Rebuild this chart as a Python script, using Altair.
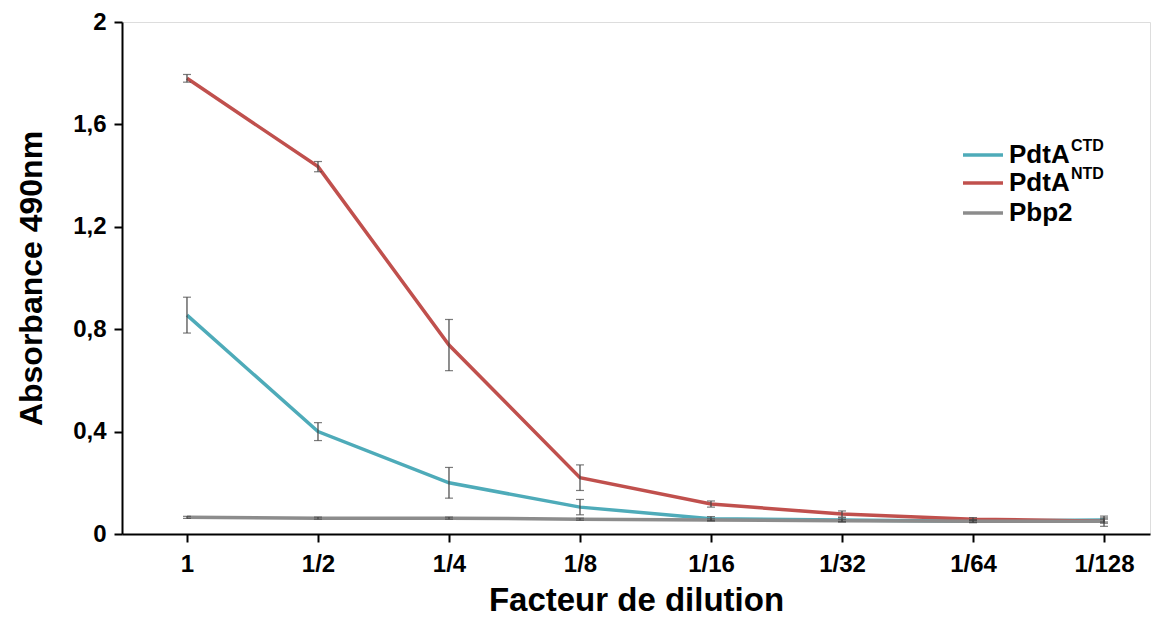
import altair as alt
import pandas as pd

# ---- data ----
dilutions = ["1", "1/2", "1/4", "1/8", "1/16", "1/32", "1/64", "1/128"]
series_names = ["PdtA CTD", "PdtA NTD", "Pbp2"]
ctd = [0.855, 0.40, 0.20, 0.105, 0.06, 0.055, 0.05, 0.055]
ctd_err = [0.07, 0.035, 0.06, 0.03, 0.008, 0.008, 0.006, 0.008]
ntd = [1.78, 1.435, 0.738, 0.22, 0.117, 0.078, 0.058, 0.05]
ntd_err = [0.015, 0.02, 0.1, 0.05, 0.012, 0.012, 0.006, 0.008]
pbp2 = [0.065, 0.062, 0.062, 0.058, 0.055, 0.052, 0.05, 0.05]
pbp2_err = [0.004, 0.004, 0.004, 0.004, 0.004, 0.004, 0.004, 0.02]

colors = ["#4EABB9", "#C0504D", "#8C8C8C"]
FONT = "Liberation Sans"
Y_TITLE = "Absorbance 490nm"

rows = []
for name, vals, errs in zip(series_names, [ctd, ntd, pbp2], [ctd_err, ntd_err, pbp2_err]):
    for i, (lab, v, e) in enumerate(zip(dilutions, vals, errs)):
        rows.append({"series": name, "idx": i, "dilution": lab, "value": v,
                     "lo": v - e, "hi": v + e})
df = pd.DataFrame(rows)

label_expr = "[" + ",".join(f"'{d}'" for d in dilutions) + "][datum.value]"

x_enc = alt.X("idx:Q",
              scale=alt.Scale(domain=[-0.496, 7.351], nice=False, zero=False),
              axis=alt.Axis(values=list(range(len(dilutions))), labelExpr=label_expr,
                            title="Facteur de dilution", grid=False,
                            labelFont=FONT, labelFontSize=24, labelFontWeight="bold",
                            labelColor="black", labelPadding=10,
                            titleFont=FONT, titleFontSize=33, titleFontWeight="bold",
                            titleColor="black", titlePadding=8,
                            domainColor="black", domainWidth=2, tickColor="black",
                            tickWidth=2, tickSize=8))
y_axis = alt.Axis(values=[0, 0.4, 0.8, 1.2, 1.6, 2.0],
                  labelExpr="replace(format(datum.value, '.1~f'), '.', ',')",
                  title=Y_TITLE, grid=False,
                  labelFont=FONT, labelFontSize=24, labelFontWeight="bold",
                  labelColor="black", labelPadding=8,
                  titleFont=FONT, titleFontSize=32, titleFontWeight="bold",
                  titleColor="black", titlePadding=24,
                  domainColor="black", domainWidth=2, tickColor="black",
                  tickWidth=2, tickSize=8)
y_scale = alt.Scale(domain=[0, 2], nice=False)
color_enc = alt.Color("series:N", scale=alt.Scale(domain=series_names, range=colors),
                      legend=None)

base = alt.Chart(df)
lines = base.mark_line(strokeWidth=3.5).encode(
    x=x_enc, y=alt.Y("value:Q", scale=y_scale, axis=y_axis, title=Y_TITLE),
    color=color_enc, order=alt.Order("idx:Q"))
errs = base.mark_errorbar(ticks=alt.MarkConfig(size=8), color="#444444",
                          thickness=1.2).encode(
    x=alt.X("idx:Q", title="Facteur de dilution"),
    y=alt.Y("lo:Q", title=Y_TITLE), y2="hi:Q")

layers = [lines, errs]

# ---- manual legend (with superscripts) ----
sup = ["CTD", "NTD", ""]
main = ["PdtA", "PdtA", "Pbp2"]
leg_y = [133, 161, 191]
for name, col, m, s, yy in zip(series_names, colors, main, sup, leg_y):
    one = pd.DataFrame({"series": [name]})
    layers.append(alt.Chart(one).mark_rule(color=col, strokeWidth=3.5).encode(
        x=alt.value(841), x2=alt.value(881), y=alt.value(yy)))
    layers.append(alt.Chart(one).mark_text(text=m, font=FONT, fontSize=26,
                                           fontWeight="bold", align="left",
                                           baseline="middle", color="black").encode(
        x=alt.value(887), y=alt.value(yy)))
    if s:
        layers.append(alt.Chart(one).mark_text(text=s, font=FONT, fontSize=16,
                                               fontWeight="bold", align="left",
                                               baseline="middle", color="black").encode(
            x=alt.value(949), y=alt.value(yy - 9)))

chart = alt.layer(*layers).properties(
    width=1028, height=512,
    autosize=alt.AutoSizeParams(type="none"),
    padding={"left": 114, "top": 14, "right": 3, "bottom": 86},
).configure_view(stroke=None).configure(background="white")

chart.save("out.html", embed_options={"renderer": "svg", "actions": False})
